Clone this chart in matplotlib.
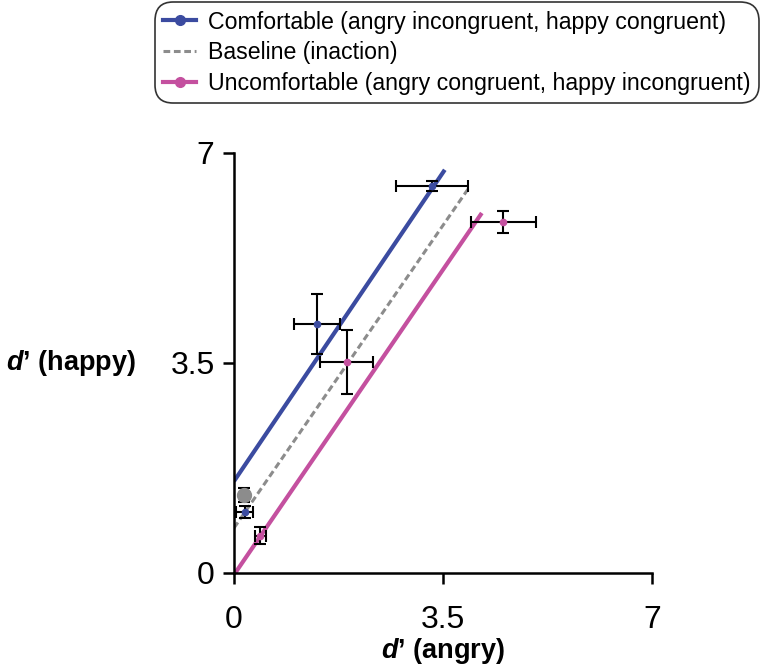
import matplotlib
matplotlib.use("Agg")
import matplotlib.pyplot as plt
from matplotlib.lines import Line2D

plt.rcParams['font.family'] = ['Liberation Sans', 'DejaVu Sans']
plt.rcParams['mathtext.fontset'] = 'custom'
plt.rcParams['mathtext.bfit'] = 'Liberation Sans:italic:bold'
plt.rcParams['mathtext.it'] = 'Liberation Sans:italic'
plt.rcParams['mathtext.rm'] = 'Liberation Sans'

# data points (d' angry, d' happy) with error bars
comf_x = [0.18, 1.39, 3.32]
comf_y = [1.02, 4.15, 6.45]
comf_xerr = [0.14, 0.385, 0.6]
comf_yerr = [0.10, 0.50, 0.08]

unc_x = [0.44, 1.89, 4.51]
unc_y = [0.62, 3.52, 5.85]
unc_xerr = [0.09, 0.445, 0.545]
unc_yerr = [0.14, 0.53, 0.19]

base_x = [0.17]
base_y = [1.30]
base_yerr = [0.12]

# fitted lines (endpoints)
comf_line_x = [0.0, 3.53]
comf_line_y = [1.53, 6.72]
base_line_x = [0.0, 3.92]
base_line_y = [0.75, 6.40]
unc_line_x = [0.02, 4.15]
unc_line_y = [0.0, 6.00]

blue = '#3b4ba0'
magenta = '#c4509f'
gray = '#8c8c8c'

fig = plt.figure(figsize=(7.6, 6.72), dpi=100)
ax = fig.add_axes([234 / 760, 1 - 573 / 672, 418 / 760, 420 / 672])

ax.plot(comf_line_x, comf_line_y, color=blue, lw=3, solid_capstyle='butt', zorder=2)
ax.plot(base_line_x, base_line_y, color=gray, lw=2.2, ls=(0, (2.2, 1.2)), zorder=2)
ax.plot(unc_line_x, unc_line_y, color=magenta, lw=3, solid_capstyle='butt', zorder=2)

ekw = dict(fmt='none', ecolor='black', elinewidth=1.5, capsize=4.5, capthick=1.5, zorder=3)
ax.errorbar(comf_x, comf_y, xerr=comf_xerr, yerr=comf_yerr, **ekw)
ax.errorbar(unc_x, unc_y, xerr=unc_xerr, yerr=unc_yerr, **ekw)
ax.errorbar(base_x, base_y, yerr=base_yerr, **ekw)

ax.plot(comf_x, comf_y, 'o', color=blue, ms=4.5, zorder=4)
ax.plot(unc_x, unc_y, 'o', color=magenta, ms=4.5, zorder=4)
ax.plot(base_x, base_y, 'o', color=gray, ms=10, zorder=4)

ax.set_xlim(0, 7)
ax.set_ylim(0, 7)
ax.set_xticks([0, 3.5, 7])
ax.set_yticks([0, 3.5, 7])
ax.set_xticklabels(['0', '3.5', '7'])
ax.set_yticklabels(['0', '3.5', '7'])
for s in ['top', 'right']:
    ax.spines[s].set_visible(False)
for s in ['left', 'bottom']:
    ax.spines[s].set_linewidth(1.8)
ax.tick_params(axis='both', direction='out', length=8, width=1.8, labelsize=23)
ax.tick_params(axis='x', pad=15)
ax.tick_params(axis='y', pad=6)

ax.set_xlabel(r"$\mathbfit{d}$’ (angry)", fontsize=19.5, fontweight='bold', labelpad=1)
ax.set_ylabel(r"$\mathbfit{d}$’ (happy)", fontsize=19.5, fontweight='bold',
              rotation=0, ha='center', va='center')
ax.yaxis.set_label_coords(-0.39, 0.5)

handles = [
    Line2D([], [], color=blue, lw=3, marker='o', ms=7),
    Line2D([], [], color=gray, lw=2.2, ls=(0, (2.2, 1.2))),
    Line2D([], [], color=magenta, lw=3, marker='o', ms=7),
]
labels = ['Comfortable (angry incongruent, happy congruent)',
          'Baseline (inaction)',
          'Uncomfortable (angry congruent, happy incongruent)']
leg = fig.legend(handles, labels, loc='upper center', bbox_to_anchor=(0.601, 0.997),
                 fontsize=16.7, frameon=True, fancybox=True, edgecolor='black',
                 handlelength=1.4, handletextpad=0.5, labelspacing=0.33,
                 borderpad=0.37, borderaxespad=0)
leg.get_frame().set_linewidth(1.2)
leg.get_frame().set_boxstyle('round', pad=0.0, rounding_size=0.8)

fig.savefig('out.png', dpi=100)
